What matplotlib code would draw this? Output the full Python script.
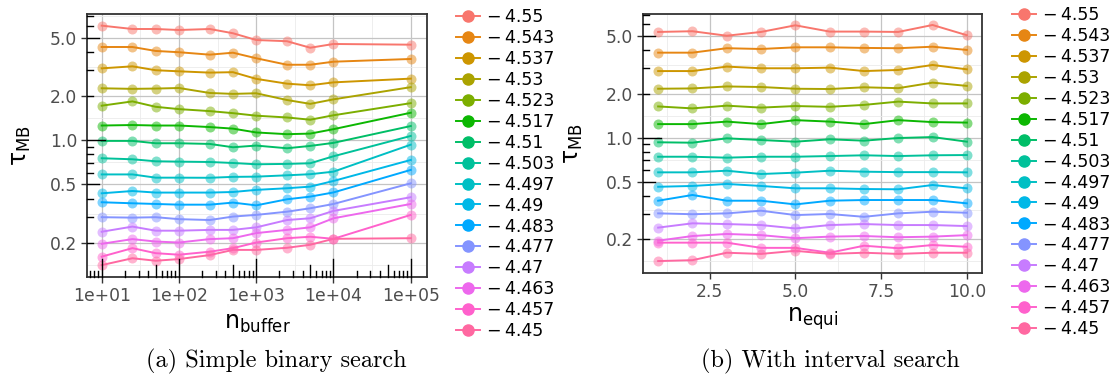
import numpy as np
import matplotlib
matplotlib.use('Agg')
import matplotlib.pyplot as plt
from matplotlib.lines import Line2D
from matplotlib.ticker import NullFormatter
from matplotlib.transforms import blended_transform_factory as blend

# chemical potentials (legend)
mu = [-4.55, -4.543, -4.537, -4.53, -4.523, -4.517, -4.51, -4.503,
      -4.497, -4.49, -4.483, -4.477, -4.47, -4.463, -4.457, -4.45]

# (a) simple binary search
n_buffer = [10, 25, 50, 100, 250, 500, 1000, 2500, 5000, 10000, 100000]
tau_a = [
    [6.04, 5.73, 5.73, 5.64, 5.73, 5.36, 4.82, 4.73, 4.27, 4.53, 4.48],
    [4.32, 4.32, 4.06, 3.98, 3.83, 3.95, 3.62, 3.27, 3.27, 3.43, 3.58],
    [3.09, 3.19, 3.00, 2.95, 2.89, 2.91, 2.62, 2.43, 2.37, 2.48, 2.63],
    [2.26, 2.24, 2.25, 2.27, 2.10, 2.07, 2.09, 1.88, 1.77, 1.90, 2.30],
    [1.72, 1.84, 1.69, 1.63, 1.58, 1.53, 1.47, 1.43, 1.38, 1.48, 1.79],
    [1.26, 1.27, 1.26, 1.26, 1.23, 1.20, 1.13, 1.10, 1.11, 1.19, 1.54],
    [0.99, 0.99, 0.954, 0.954, 0.944, 0.896, 0.92, 0.882, 0.915, 0.96, 1.25],
    [0.754, 0.742, 0.719, 0.715, 0.711, 0.700, 0.686, 0.690, 0.697, 0.778, 1.07],
    [0.585, 0.585, 0.556, 0.556, 0.555, 0.563, 0.565, 0.577, 0.587, 0.611, 0.933],
    [0.435, 0.451, 0.440, 0.440, 0.440, 0.444, 0.459, 0.471, 0.483, 0.528, 0.734],
    [0.378, 0.372, 0.368, 0.364, 0.364, 0.376, 0.360, 0.396, 0.413, 0.441, 0.628],
    [0.299, 0.297, 0.299, 0.290, 0.286, 0.302, 0.310, 0.326, 0.344, 0.368, 0.509],
    [0.238, 0.258, 0.242, 0.242, 0.245, 0.245, 0.255, 0.286, 0.294, 0.330, 0.409],
    [0.197, 0.212, 0.204, 0.201, 0.212, 0.215, 0.233, 0.245, 0.255, 0.294, 0.368],
    [0.161, 0.184, 0.170, 0.166, 0.174, 0.184, 0.201, 0.215, 0.220, 0.213, 0.310],
    [0.141, 0.157, 0.151, 0.155, 0.165, 0.179, 0.179, 0.185, 0.194, 0.213, 0.215],
]

# (b) with interval search
n_equi = [1, 2, 3, 4, 5, 6, 7, 8, 9, 10]
tau_b = [
    [5.33, 5.39, 5.02, 5.33, 5.92, 5.36, 5.36, 5.33, 5.95, 5.06],
    [3.84, 3.84, 4.12, 4.07, 4.18, 4.18, 4.14, 4.12, 4.22, 4.01],
    [2.87, 2.87, 3.08, 3.00, 3.00, 3.03, 2.87, 2.92, 3.16, 2.95],
    [2.17, 2.18, 2.25, 2.23, 2.17, 2.16, 2.22, 2.19, 2.39, 2.27],
    [1.64, 1.59, 1.66, 1.61, 1.65, 1.63, 1.68, 1.77, 1.72, 1.72],
    [1.24, 1.24, 1.29, 1.24, 1.32, 1.29, 1.24, 1.32, 1.28, 1.27],
    [0.930, 0.924, 0.99, 0.964, 0.939, 0.975, 0.954, 0.995, 1.01, 0.939],
    [0.740, 0.740, 0.729, 0.740, 0.740, 0.748, 0.757, 0.748, 0.757, 0.760],
    [0.578, 0.578, 0.593, 0.563, 0.575, 0.593, 0.584, 0.580, 0.580, 0.578],
    [0.460, 0.466, 0.481, 0.466, 0.449, 0.449, 0.444, 0.442, 0.473, 0.449],
    [0.369, 0.404, 0.369, 0.369, 0.348, 0.369, 0.373, 0.373, 0.373, 0.354],
    [0.302, 0.298, 0.302, 0.315, 0.294, 0.299, 0.286, 0.302, 0.310, 0.305],
    [0.241, 0.258, 0.255, 0.251, 0.238, 0.251, 0.255, 0.251, 0.251, 0.247],
    [0.196, 0.211, 0.218, 0.214, 0.204, 0.209, 0.211, 0.207, 0.209, 0.214],
    [0.190, 0.190, 0.190, 0.175, 0.175, 0.162, 0.181, 0.174, 0.183, 0.178],
    [0.142, 0.144, 0.162, 0.159, 0.167, 0.159, 0.162, 0.159, 0.162, 0.162],
]

y_ticks = [0.2, 0.5, 1, 2, 5]
y_ticklabels = ['0.2', '0.5', '1.0', '2.0', '5.0']
xa_ticks = [1e1, 1e2, 1e3, 1e4, 1e5]
xa_ticklabels = ['1e+01', '1e+02', '1e+03', '1e+04', '1e+05']
xb_ticks = [2.5, 5.0, 7.5, 10.0]
xb_ticklabels = ['2.5', '5.0', '7.5', '10.0']


def hue_color(h, c=100., l=65.):
    # ggplot hue_pal: polar LUV -> sRGB (D65)
    Xn, Yn, Zn = 95.047, 100.0, 108.883
    un = 4*Xn/(Xn+15*Yn+3*Zn)
    vn = 9*Yn/(Xn+15*Yn+3*Zn)
    U = c*np.cos(np.radians(h))
    V = c*np.sin(np.radians(h))
    Y = Yn*((l+16)/116.)**3
    u = U/(13*l)+un
    v = V/(13*l)+vn
    X = 9*Y*u/(4*v)
    Z = -X/3 - 5*Y + 3*Y/v
    M = np.array([[3.240479, -1.537150, -0.498535],
                  [-0.969256, 1.875992, 0.041556],
                  [0.055648, -0.204043, 1.057311]])
    rgb = M @ (np.array([X, Y, Z])/100.)
    rgb = np.where(rgb > 0.00304, 1.055*np.abs(rgb)**(1/2.4)-0.055, 12.92*rgb)
    return tuple(np.clip(rgb, 0, 1))


colors = [hue_color(15 + 22.5*i) for i in range(len(mu))]
labels = ['\u2212\u2009%g' % abs(m) for m in mu]

W, H = 1119, 378
fig = plt.figure(figsize=(W/100, H/100), dpi=100)
plt.rcParams['mathtext.fontset'] = 'dejavusans'

ax_a = fig.add_axes([87/W, 1-277/H, 340/W, 263/H])
ax_b = fig.add_axes([642.7/W, 1-273.3/H, 339.6/W, 259.3/H])


def style(ax):
    for s in ax.spines.values():
        s.set_color('#333333')
        s.set_linewidth(1.3)
    ax.tick_params(which='major', direction='out', length=4, width=1.0,
                   color='#333333', labelsize=12.3, labelcolor='#4d4d4d', pad=3)
    ax.tick_params(which='minor', length=0)
    ax.grid(which='major', color='#c4c4c4', lw=0.9, zorder=0)
    ax.grid(which='minor', color='#ebebeb', lw=0.6, zorder=0)
    ax.set_axisbelow(True)


def log_ticks(ax, lo, hi, axis, size_px):
    for k in range(-2, 7):
        for m in range(1, 10):
            v = m*10.0**k
            if not (lo <= v <= hi):
                continue
            L = (18 if m == 1 else (12 if m == 5 else 6))/size_px
            if axis == 'x':
                ax.plot([v, v], [0, L], color='black', lw=1.0, clip_on=False,
                        transform=blend(ax.transData, ax.transAxes), zorder=5)
            else:
                ax.plot([0, L], [v, v], color='black', lw=1.0, clip_on=False,
                        transform=blend(ax.transAxes, ax.transData), zorder=5)


for ax, x, tau in [(ax_a, n_buffer, tau_a), (ax_b, n_equi, tau_b)]:
    for i in range(len(mu)):
        ax.plot(x, tau[i], color=colors[i], lw=1.4, zorder=3)
        ax.plot(x, tau[i], 'o', color=colors[i], alpha=0.5, ms=7.2, mec='none', zorder=4)

minor_y = [0.1**0.5*0.45, 0.1**0.5, 0.5**0.5, 2**0.5, 10**0.5, 50**0.5]

# panel (a)
ax_a.set_xscale('log')
ax_a.set_yscale('log')
ax_a.set_xlim(10**0.81, 10**5.21)
ax_a.set_ylim(0.117, 7.25)
style(ax_a)
ax_a.set_xticks(xa_ticks, xa_ticklabels)
ax_a.set_xticks([10**(k+0.5) for k in range(1, 5)], minor=True)
ax_a.set_yticks(y_ticks, y_ticklabels)
ax_a.set_yticks(minor_y, minor=True)
ax_a.xaxis.set_minor_formatter(NullFormatter())
ax_a.yaxis.set_minor_formatter(NullFormatter())
log_ticks(ax_a, 10**0.81, 10**5.21, 'x', 263)
log_ticks(ax_a, 0.117, 7.25, 'y', 340)
ax_a.set_xlabel('n$_{\\mathrm{buffer}}$', fontsize=17)
ax_a.set_ylabel('\u03c4$_{\\mathrm{MB}}$', fontsize=17)
ax_a.xaxis.set_label_coords(0.5, -0.13)
ax_a.yaxis.set_label_coords(-0.16, 0.5)

# panel (b)
ax_b.set_yscale('log')
ax_b.set_xlim(0.55, 10.45)
ax_b.set_ylim(0.117, 7.08)
style(ax_b)
ax_b.set_xticks(xb_ticks, xb_ticklabels)
ax_b.set_xticks([1.25, 3.75, 6.25, 8.75], minor=True)
ax_b.set_yticks(y_ticks, y_ticklabels)
ax_b.set_yticks(minor_y, minor=True)
ax_b.yaxis.set_minor_formatter(NullFormatter())
log_ticks(ax_b, 0.117, 7.08, 'y', 339.6)
ax_b.set_xlabel('n$_{\\mathrm{equi}}$', fontsize=17)
ax_b.set_ylabel('\u03c4$_{\\mathrm{MB}}$', fontsize=17)
ax_b.xaxis.set_label_coords(0.5, -0.125)
ax_b.yaxis.set_label_coords(-0.17, 0.5)

# legends
handles = [Line2D([], [], color=c, marker='o', ms=8, lw=1.4) for c in colors]
for x0, y0 in [(456/W, 1-8/H), (1012/W, 1-6/H)]:
    fig.legend(handles, labels, loc='upper left', bbox_to_anchor=(x0, y0),
               frameon=False, fontsize=12.5, handlelength=1.4, handletextpad=0.4,
               labelspacing=0.17, borderpad=0, borderaxespad=0)

# captions
fig.text(276/W, 1-361/H, '(a) Simple binary search', family='cmr10',
         fontsize=17.5, ha='center', va='center')
fig.text(830/W, 1-361/H, '(b) With interval search', family='cmr10',
         fontsize=17.5, ha='center', va='center')

fig.savefig('out.png', dpi=100)
plt.close()
